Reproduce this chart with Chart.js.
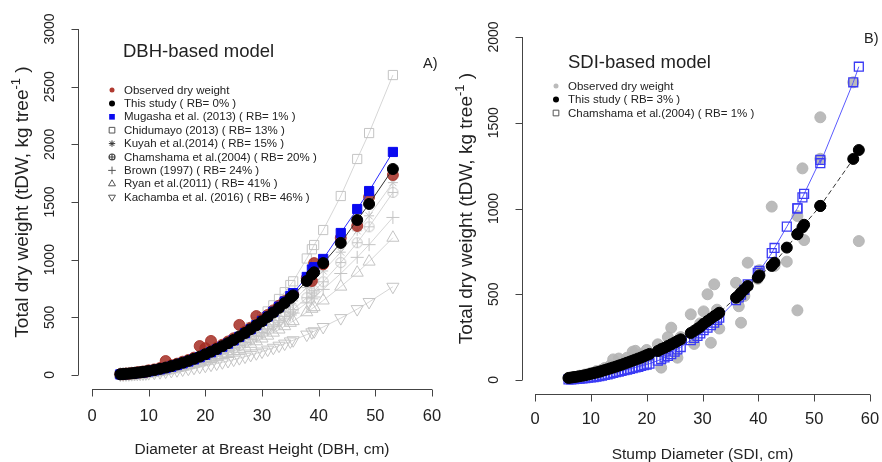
<!DOCTYPE html>
<html>
<head>
<meta charset="utf-8">
<script src="https://cdn.jsdelivr.net/npm/chart.js@4.4.1/dist/chart.umd.min.js"></script>
<style>
  html, body { margin: 0; padding: 0; background: #fff; overflow: hidden; width: 882px; height: 462px; }
  #left { position: absolute; left: 0; top: 0; }
  #right { position: absolute; left: 441px; top: 0; }
</style>
</head>
<body>
<canvas id="left" width="460" height="462"></canvas>
<canvas id="right" width="450" height="462"></canvas>
<script>
// ---------- Panel A: DBH-based model ----------
const dbh = [5, 5.5, 6, 6.5, 7, 7.5, 8, 8.5, 9, 9.5,
  10, 11, 12, 13, 14, 15, 16, 17, 18, 19, 20, 21, 22, 23, 24, 25, 26, 27, 28, 29, 30, 31, 32, 33, 34, 35,
  35.5, 37.9, 38.8, 39.2, 40.8, 43.9, 46.8, 48.9, 53.1];

const observedA = [7, 6, 12, 11, 16, 15, 24, 22, 30, 27,
  40, 48, 60, 121, 85, 98, 115, 130, 150, 251, 232, 295, 235, 262, 290, 318, 434, 375, 410, 511, 480, 520, 560, 600, 640, 680,
  700, 840, 815, 970, 960, 1188, 1292, 1543, 1734];
const thisStudyA = [6, 8, 10, 12, 14, 17, 20, 23, 26, 30,
  34, 43, 53, 64, 77, 91, 106, 122, 140, 159, 180, 202, 225, 250, 276, 304, 333, 364, 397, 431, 466, 503, 542, 582, 624, 668,
  690, 815, 870, 890, 970, 1145, 1344, 1483, 1786];
const mugasha = [5, 7, 8.5, 10, 12, 15, 17.5, 20, 23, 27,
  31, 40, 49, 60, 72, 86, 101, 117, 135, 154, 175, 197, 220, 245, 272, 300, 330, 362, 396, 431, 468, 507, 548, 592, 637, 685,
  710, 850, 915, 935, 1006, 1231, 1439, 1595, 1934];
const chidumayo = [2.5, 3.5, 4.6, 5.7, 7, 8.8, 10.7, 12.7, 14.8, 17.5,
  20.5, 27, 35, 44, 55, 68, 82, 97, 115, 134, 156, 180, 205, 234, 264, 297, 333, 371, 412, 456, 502, 551, 604, 659, 718, 780,
  812, 1010, 1090, 1127, 1257, 1552, 1873, 2098, 2601];
const kuyah = [5.6, 7.4, 9.3, 11.2, 13, 15.8, 18.6, 21.4, 24.2, 27.9,
  31.6, 40, 49.3, 59.5, 71.6, 84.6, 98.6, 113, 130, 148, 167, 188, 209, 233, 257, 283, 310, 339, 369, 401, 433, 468, 504, 541, 580, 621,
  642, 758, 809, 828, 902, 1065, 1250, 1380, 1668];
const chamshamaA = [3.8, 4.9, 6.1, 7.4, 9, 10.7, 12.6, 14.7, 17, 19.6,
  22.3, 28.5, 35.5, 43.6, 52.7, 62.9, 74.1, 86.6, 100, 115, 131, 148, 167, 187, 209, 232, 256, 282, 309, 338, 369, 401, 435, 471, 508, 547,
  567, 670, 711, 730, 808, 975, 1147, 1285, 1583];
const brown = [5.7, 7.1, 8.7, 10.5, 12.4, 14.6, 16.9, 19.5, 22.2, 25.2,
  28.4, 35.4, 43.3, 52.2, 62, 72.8, 84.5, 97.2, 111, 126, 142, 159, 177, 196, 216, 238, 261, 284, 310, 336, 363, 392, 422, 453, 486, 520,
  537, 625, 660, 676, 742, 880, 1020, 1130, 1366];
const ryan = [4.95, 6.17, 7.55, 9.09, 10.8, 12.7, 14.7, 17, 19.3, 21.9,
  24.7, 30.8, 37.7, 45.4, 53.9, 63.3, 73.5, 84.6, 96.6, 110, 124, 138, 154, 171, 188, 207, 227, 247, 270, 292, 316, 341, 367, 394, 423, 452,
  467, 544, 574, 588, 646, 766, 887, 983, 1190];
const kachamba = [3.2, 4, 4.9, 5.9, 6.9, 8.2, 9.5, 10.9, 12.4, 14.1,
  15.9, 19.8, 24.2, 29.2, 34.7, 40.8, 47.3, 54.4, 62.2, 70.6, 79.5, 89, 99, 110, 121, 133, 146, 159, 174, 188, 203, 220, 236, 254, 272, 291,
  301, 350, 370, 379, 416, 493, 571, 633, 765];

const legendA = ['Observed dry weight', 'This study ( RB= 0% )', 'Mugasha et al. (2013) ( RB= 1% )',
  'Chidumayo (2013) ( RB= 13% )', 'Kuyah et al.(2014) ( RB= 15% )', 'Chamshama et al.(2004) ( RB= 20% )',
  'Brown (1997) ( RB= 24% )', 'Ryan et al.(2011) ( RB= 41% )', 'Kachamba et al. (2016) ( RB= 46% )'];

// ---------- Panel B: SDI-based model ----------
const sdi = [6, 6.5, 7, 7.5, 8, 8.5, 9, 9.5, 10, 10.5, 11, 11.5, 12, 12.5, 13, 13.5, 14, 14.5, 15, 15.5,
  16, 16.5, 17, 17.5, 18, 18.5, 19, 19.5, 20, 20.5,
  22.0, 22.6, 23.2, 23.8, 24.4, 25.0, 25.5, 26.1, 27.9, 28.5, 29.1, 29.6, 30.2, 30.9, 31.5, 32.1, 32.6, 33.0,
  36.0, 36.5, 36.9, 37.5, 38.1, 39.9, 40.2, 42.4, 42.9, 45.1,
  47.0, 47.0, 47.9, 48.2, 51.1, 51.1, 57.0, 58.0];
const observedB = [10, 15, 18, 14, 25, 20, 32, 28, 40, 35, 52, 42, 60, 70, 58, 85, 120, 70, 125, 95,
  110, 130, 100, 165, 170, 110, 150, 120, 175, 140,
  208, 72, 160, 250, 305, 210, 130, 250, 383, 210, 300, 330, 400, 500, 217, 558, 410, 300,
  567, 430, 334, 490, 684, 590, 640, 1011, 665, 690,
  956, 406, 1234, 816, 1532, 1290, 1736, 810];
const thisStudyB = [12, 14, 17, 19, 22, 25, 28, 32, 36, 40, 44, 48, 53, 58, 63, 68, 73, 78, 84, 89,
  95, 101, 107, 113, 119, 125, 131, 138, 145, 152,
  169, 180, 188, 198, 208, 218, 227, 237, 274, 286, 299, 310, 328, 344, 358, 372, 382, 392,
  480, 494, 509, 528, 548, 597, 610, 665, 684, 772,
  850, 850, 890, 905, 1015, 1015, 1289, 1341];
const chamshamaB = [3, 4, 5, 6, 8, 9, 11, 13, 15, 17, 20, 23, 26, 29, 33, 37, 41, 45, 49, 53,
  57, 61, 65, 69, 73, 77, 82, 86, 90, 95,
  113, 121, 131, 140, 150, 165, 178, 192, 232, 245, 257, 272, 290, 305, 320, 334, 350, 363,
  465, 482, 498, 525, 558, 625, 636, 740, 770, 894,
  1001, 1001, 1065, 1085, 1283, 1264, 1736, 1827];

const legendB = ['Observed dry weight', 'This study ( RB= 3% )', 'Chamshama et al.(2004) ( RB= 1% )'];

const xTicks = [0, 10, 20, 30, 40, 50, 60];
const yTicksA = [0, 500, 1000, 1500, 2000, 2500, 3000];
const yTicksB = [0, 500, 1000, 1500, 2000];

// ---------- helpers ----------
const FONT = "'Liberation Sans', Arial, sans-serif";
const GRAY = '#c4c4c4';

function circlePlus(r, color, lw) {
  const c = document.createElement('canvas');
  const s = Math.ceil(2 * r + lw + 2);
  c.width = s; c.height = s;
  const g = c.getContext('2d');
  g.strokeStyle = color; g.lineWidth = lw;
  g.beginPath();
  g.arc(s / 2, s / 2, r, 0, Math.PI * 2);
  g.moveTo(s / 2 - r, s / 2); g.lineTo(s / 2 + r, s / 2);
  g.moveTo(s / 2, s / 2 - r); g.lineTo(s / 2, s / 2 + r);
  g.stroke();
  return c;
}

function pts(xs, ys) {
  return xs.map((v, i) => ({ x: v, y: ys[i] }));
}

function series(label, xs, ys, style) {
  return Object.assign({
    label, data: pts(xs, ys), showLine: false, clip: false,
    borderWidth: 1, pointBorderWidth: 1, pointHoverRadius: 0
  }, style);
}

// R-like axes, titles and legend drawn on top of the Chart.js scales
function rDecor(cfg) {
  return {
    id: 'rDecor',
    afterDraw(chart) {
      const { ctx, chartArea: a, scales: { x, y } } = chart;
      ctx.save();
      ctx.strokeStyle = '#444';
      ctx.fillStyle = '#222';
      ctx.lineWidth = 1;

      // x axis
      const yb = Math.round(a.bottom) + 0.5;
      ctx.beginPath();
      ctx.moveTo(x.getPixelForValue(xTicks[0]), yb);
      ctx.lineTo(x.getPixelForValue(xTicks[xTicks.length - 1]), yb);
      xTicks.forEach(t => {
        const px = Math.round(x.getPixelForValue(t)) + 0.5;
        ctx.moveTo(px, yb); ctx.lineTo(px, yb + 7);
      });
      // y axis
      const xl = Math.round(a.left) + 0.5;
      ctx.moveTo(xl, y.getPixelForValue(cfg.yTicks[0]));
      ctx.lineTo(xl, y.getPixelForValue(cfg.yTicks[cfg.yTicks.length - 1]));
      cfg.yTicks.forEach(t => {
        const py = Math.round(y.getPixelForValue(t)) + 0.5;
        ctx.moveTo(xl, py); ctx.lineTo(xl - 7, py);
      });
      ctx.stroke();

      // tick labels
      ctx.font = '16.5px ' + FONT;
      ctx.textAlign = 'center';
      ctx.textBaseline = 'alphabetic';
      xTicks.forEach(t => ctx.fillText(String(t), x.getPixelForValue(t), a.bottom + cfg.xLabelGap));
      ctx.font = '14px ' + FONT;
      cfg.yTicks.forEach(t => {
        ctx.save();
        ctx.translate(a.left - 24, y.getPixelForValue(t));
        ctx.rotate(-Math.PI / 2);
        ctx.fillText(String(t), 0, 0);
        ctx.restore();
      });

      // axis titles
      ctx.font = '15.5px ' + FONT;
      ctx.fillText(cfg.xTitle, (a.left + a.right) / 2, a.bottom + 65);
      ctx.save();
      ctx.translate(a.left - 50, (a.top + a.bottom) / 2);
      ctx.rotate(-Math.PI / 2);
      const big = '19px ' + FONT, small = '13px ' + FONT;
      const main = 'Total dry weight (tDW, kg tree', sup = '-1', end = ' )';
      ctx.font = big; const w1 = ctx.measureText(main).width; const w3 = ctx.measureText(end).width;
      ctx.font = small; const w2 = ctx.measureText(sup).width;
      let sx = -(w1 + w2 + w3) / 2;
      ctx.textAlign = 'left';
      ctx.font = big; ctx.fillText(main, sx, 0);
      ctx.font = small; ctx.fillText(sup, sx + w1, -8);
      ctx.font = big; ctx.fillText(end, sx + w1 + w2, 0);
      ctx.restore();

      // panel title and tag
      ctx.textAlign = 'left';
      ctx.font = '18.5px ' + FONT;
      ctx.fillText(cfg.title, cfg.titleX, cfg.titleY);
      ctx.font = '14.5px ' + FONT;
      ctx.fillText(cfg.tag, cfg.tagX, cfg.tagY);

      // legend
      ctx.font = '11.5px ' + FONT;
      ctx.textBaseline = 'middle';
      cfg.legend.forEach((lab, i) => {
        const ly = cfg.legY + i * cfg.legDy;
        const s = cfg.legSyms[i];
        ctx.save();
        ctx.fillStyle = s.fill || 'rgba(0,0,0,0)';
        ctx.strokeStyle = s.stroke || s.fill;
        ctx.lineWidth = 1;
        Chart.helpers.drawPoint(ctx, { pointStyle: s.style, radius: s.r, rotation: s.rot || 0, borderWidth: s.stroke ? 1 : 0 }, cfg.legX, ly);
        ctx.restore();
        ctx.fillStyle = '#222';
        ctx.fillText(lab, cfg.legX + 12, ly + 0.5);
      });
      ctx.restore();
    }
  };
}

const commonOpts = (pad, xr, yr) => ({
  responsive: false,
  animation: false,
  events: [],
  layout: { padding: pad },
  scales: {
    x: { type: 'linear', min: xr[0], max: xr[1], display: false },
    y: { type: 'linear', min: yr[0], max: yr[1], display: false }
  },
  plugins: { legend: { display: false }, tooltip: { enabled: false } }
});

// ---------- Chart A ----------
const cpBig = circlePlus(5, GRAY, 1);
const cpLeg = circlePlus(3, '#444', 1.2);

new Chart(document.getElementById('left'), {
  type: 'scatter',
  data: {
    datasets: [
      series(legendA[1], dbh, thisStudyA, { showLine: true, borderColor: '#333', pointStyle: 'circle', pointRadius: 5.5, pointBackgroundColor: '#000', pointBorderColor: '#000' }),
      series(legendA[2], dbh, mugasha, { showLine: true, borderColor: '#2a2aff', pointStyle: 'rect', pointRadius: 6.5, pointBackgroundColor: '#0a0af0', pointBorderColor: '#0a0af0' }),
      series(legendA[0], dbh, observedA, { pointStyle: 'circle', pointRadius: 5.5, pointBackgroundColor: 'rgba(165,45,35,0.85)', pointBorderColor: 'rgba(165,45,35,0.85)' }),
      series(legendA[3], dbh, chidumayo, { showLine: true, borderColor: '#d6d6d6', pointStyle: 'rect', pointRadius: 6.5, pointBackgroundColor: 'rgba(0,0,0,0)', pointBorderColor: GRAY }),
      series(legendA[4], dbh, kuyah, { showLine: true, borderColor: '#d6d6d6', pointStyle: 'star', pointRadius: 5, pointBackgroundColor: 'rgba(0,0,0,0)', pointBorderColor: GRAY }),
      series(legendA[5], dbh, chamshamaA, { showLine: true, borderColor: '#d6d6d6', pointStyle: cpBig, pointRadius: 5 }),
      series(legendA[6], dbh, brown, { showLine: true, borderColor: '#d6d6d6', pointStyle: 'cross', pointRadius: 6.5, pointBackgroundColor: 'rgba(0,0,0,0)', pointBorderColor: GRAY }),
      series(legendA[7], dbh, ryan, { showLine: true, borderColor: '#d6d6d6', pointStyle: 'triangle', pointRadius: 7, pointBackgroundColor: 'rgba(0,0,0,0)', pointBorderColor: GRAY }),
      series(legendA[8], dbh, kachamba, { showLine: true, borderColor: '#d6d6d6', pointStyle: 'triangle', pointRotation: 180, pointRadius: 7, pointBackgroundColor: 'rgba(0,0,0,0)', pointBorderColor: GRAY })
    ]
  },
  options: commonOpts({ left: 78.4, right: 14.4, top: 15.2, bottom: 73.2 }, [-2.4, 62.4], [-120, 3120]),
  plugins: [rDecor({
    yTicks: yTicksA, xLabelGap: 32, xTitle: 'Diameter at Breast Height (DBH, cm)',
    title: 'DBH-based model', titleX: 123, titleY: 57, tag: 'A)', tagX: 423, tagY: 68,
    legend: legendA, legX: 112, legY: 90, legDy: 13.4,
    legSyms: [
      { style: 'circle', r: 2.5, fill: '#b03a30' },
      { style: 'circle', r: 3, fill: '#000' },
      { style: 'rect', r: 4, fill: '#0a0af0' },
      { style: 'rect', r: 4, stroke: '#555' },
      { style: 'star', r: 3.2, stroke: '#333' },
      { style: cpLeg, r: 3 },
      { style: 'cross', r: 3.8, stroke: '#555' },
      { style: 'triangle', r: 4, stroke: '#555' },
      { style: 'triangle', r: 4, rot: 180, stroke: '#555' }
    ]
  })]
});

// ---------- Chart B ----------
new Chart(document.getElementById('right'), {
  type: 'scatter',
  data: {
    datasets: [
      series(legendB[1], sdi, thisStudyB, { showLine: true, borderColor: '#333', borderDash: [5, 3], pointStyle: 'circle', pointRadius: 5.5, pointBackgroundColor: '#000', pointBorderColor: '#000' }),
      series(legendB[2], sdi, chamshamaB, { showLine: true, borderColor: '#5a5aff', pointStyle: 'rect', pointRadius: 6.3, pointBorderWidth: 1.3, pointBackgroundColor: 'rgba(0,0,0,0)', pointBorderColor: '#3a3af5' }),
      series(legendB[0], sdi, observedB, { pointStyle: 'circle', pointRadius: 5.5, pointBackgroundColor: 'rgba(180,180,180,0.9)', pointBorderColor: 'rgba(180,180,180,0.9)' })
    ]
  },
  options: commonOpts({ left: 80.6, right: 7.6, top: 23.3, bottom: 68.3 }, [-2.4, 62.4], [-80, 2080]),
  plugins: [rDecor({
    yTicks: yTicksB, xLabelGap: 30, xTitle: 'Stump Diameter (SDI, cm)',
    title: 'SDI-based model', titleX: 127, titleY: 68, tag: 'B)', tagX: 423, tagY: 43,
    legend: legendB, legX: 115, legY: 86, legDy: 13.5,
    legSyms: [
      { style: 'circle', r: 2.5, fill: '#bbb' },
      { style: 'circle', r: 3, fill: '#000' },
      { style: 'rect', r: 4, stroke: '#555' }
    ]
  })]
});
</script>
</body>
</html>
